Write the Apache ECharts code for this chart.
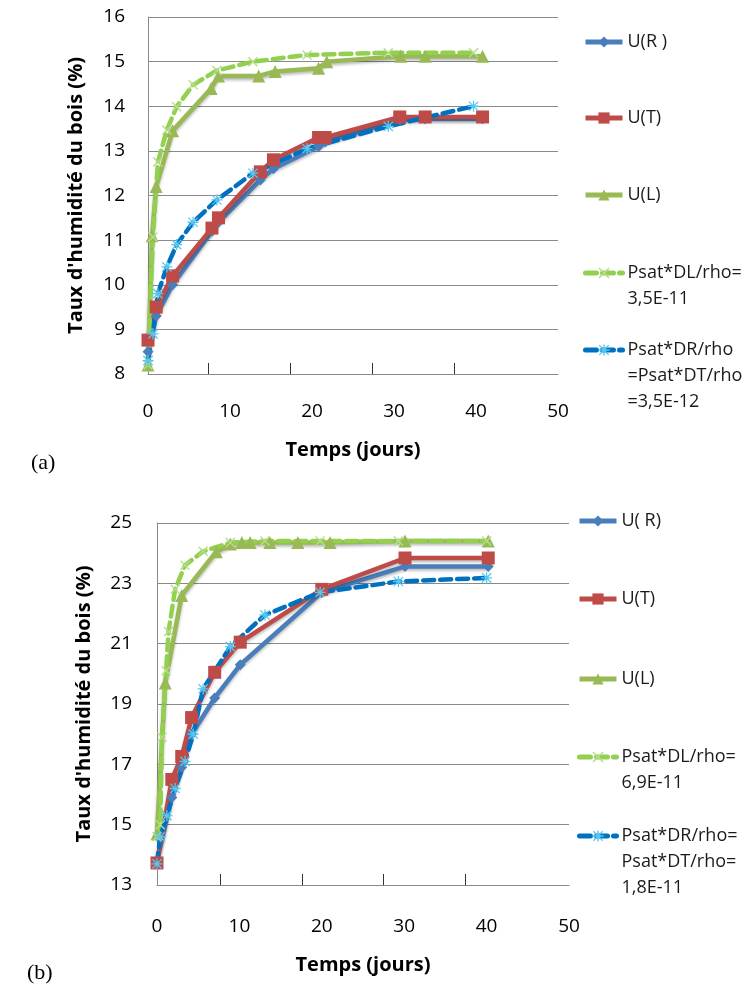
<!DOCTYPE html>
<html>
<head>
<meta charset="utf-8">
<script src="https://cdn.jsdelivr.net/npm/echarts@6/dist/echarts.min.js"></script>
<style>html,body{margin:0;padding:0;background:#fff}#c{width:745px;height:989px}</style>
</head>
<body>
<div id="c"></div>
<script>
// ---------- Chart (a) ----------
const tA_R = [0, 1, 3, 7.8, 8.6, 13.7, 15.3, 20.8, 21.6, 30.7, 33.8, 40.8];
const uA_R = [8.5, 9.3, 10.0, 11.2, 11.4, 12.35, 12.6, 13.1, 13.2, 13.7, 13.72, 13.72];
const tA_T = [0, 1, 3, 7.8, 8.6, 13.7, 15.3, 20.8, 21.6, 30.7, 33.8, 40.8];
const uA_T = [8.76, 9.5, 10.2, 11.27, 11.5, 12.53, 12.8, 13.3, 13.3, 13.76, 13.76, 13.76];
const tA_L = [0, 0.5, 1, 3, 7.7, 8.6, 13.5, 15.5, 20.8, 21.8, 30.8, 33.8, 40.8];
const uA_L = [8.2, 11.1, 12.2, 13.45, 14.4, 14.68, 14.68, 14.78, 14.85, 15.0, 15.12, 15.12, 15.12];
const tA_S = [0, 0.6, 1.2, 2.3, 3.5, 5.5, 8.4, 12.8, 19.4, 29.3, 39.7];
const uA_DL = [8.2, 11.07, 12.75, 13.47, 13.99, 14.48, 14.8, 15.0, 15.15, 15.2, 15.2];
const uA_DR = [8.3, 8.9, 9.8, 10.4, 10.9, 11.4, 11.9, 12.5, 13.05, 13.55, 14.0];
const yTicksA = [8, 9, 10, 11, 12, 13, 14, 15, 16];
const xTickMarksA = [7.3, 17.3, 27.3, 37.3];

// ---------- Chart (b) ----------
const tB_R = [0, 1.8, 3, 4.2, 7, 10.1, 20, 30.1, 40.2];
const uB_R = [13.8, 15.9, 16.9, 18.0, 19.2, 20.3, 22.7, 23.56, 23.56];
const tB_T = [0, 1.8, 3, 4.2, 7, 10.1, 20, 30.1, 40.2];
const uB_T = [13.73, 16.5, 17.26, 18.55, 20.05, 21.05, 22.8, 23.84, 23.84];
const tB_L = [0, 1, 3, 7.2, 8.9, 10.3, 11.3, 13.7, 17.1, 21, 30.1, 40.2];
const uB_L = [14.7, 19.7, 22.6, 24.05, 24.3, 24.35, 24.35, 24.35, 24.35, 24.35, 24.4, 24.4];
const tB_DL = [0, 0.4, 0.6, 1.1, 1.4, 2.2, 3.4, 5.6, 8.9, 13.1, 19.8, 29.3, 40];
const uB_DL = [14.6, 15.0, 17.9, 20.1, 21.4, 22.8, 23.6, 24.06, 24.35, 24.4, 24.4, 24.4, 24.4];
const tB_DR = [0, 0.4, 1.2, 2.2, 3.4, 4.4, 5.6, 8.9, 13.1, 19.8, 29.3, 40];
const uB_DR = [13.7, 14.6, 15.3, 16.2, 17.1, 18.0, 19.5, 20.9, 21.95, 22.7, 23.06, 23.18];
const yTicksB = [13, 15, 17, 19, 21, 23, 25];
const xTickMarksB = [7.7, 17.6, 27.5, 37.4];

const xLabels = [0, 10, 20, 30, 40, 50];
const xTitle = 'Temps (jours)';
const yTitle = "Taux d'humidité du bois (%)";

const legendA = [
  ['U(R )', ['U(R )']],
  ['U(T)', ['U(T)']],
  ['U(L)', ['U(L)']],
  ['Psat*DL/rho= a', ['Psat*DL/rho=', '3,5E-11']],
  ['Psat*DR/rho a', ['Psat*DR/rho', '=Psat*DT/rho', '=3,5E-12']]
];
const legendB = [
  ['U( R)', ['U( R)']],
  ['U(T) ', ['U(T)']],
  ['U(L) ', ['U(L)']],
  ['Psat*DL/rho= b', ['Psat*DL/rho=', '6,9E-11']],
  ['Psat*DR/rho= b', ['Psat*DR/rho=', 'Psat*DT/rho=', '1,8E-11']]
];

const zip = (t, v) => t.map((x, i) => [x, v[i]]);
const FONT = 'Open Sans';
const GRID_C = '#8a8a8a';

const C_R = '#4A7EBB', C_T = '#BE4B48', C_L = '#98B954', C_DL = '#92D050', C_DR = '#0070C0', C_DRm = '#55C8F0';
const crossPath = 'path://M0,1 L1,0 L5,4 L9,0 L10,1 L6,5 L10,9 L9,10 L5,6 L1,10 L0,9 L4,5 Z';
const starPath = 'path://M0,4.4 H10 V5.6 H0 Z M4.4,0 H5.6 V10 H4.4 Z M1.2,0.4 L9.6,8.8 L8.8,9.6 L0.4,1.2 Z M8.8,0.4 L9.6,1.2 L1.2,9.6 L0.4,8.8 Z';

function mkSeries(name, data, idx, kind) {
  const base = {
    name, type: 'line', data, xAxisIndex: idx, yAxisIndex: idx,
    showAllSymbol: true, animation: false, smooth: false
  };
  const shadow = { shadowColor: 'rgba(0,0,0,0.28)', shadowBlur: 3, shadowOffsetY: 2 };
  const W = 4.5;
  if (kind === 'R') return Object.assign(base, { symbol: 'diamond', symbolSize: 11, lineStyle: Object.assign({ color: C_R, width: W }, shadow), itemStyle: { color: C_R } });
  if (kind === 'T') return Object.assign(base, { symbol: 'rect', symbolSize: 13, lineStyle: Object.assign({ color: C_T, width: W }, shadow), itemStyle: { color: C_T } });
  if (kind === 'L') return Object.assign(base, { symbol: 'triangle', symbolSize: 13, lineStyle: Object.assign({ color: C_L, width: W }, shadow), itemStyle: { color: C_L } });
  if (kind === 'DL') return Object.assign(base, { symbol: crossPath, symbolSize: 10, lineStyle: { color: C_DL, width: W, type: [11, 6], cap: 'round' }, itemStyle: { color: '#b5dd8a' } });
  if (kind === 'DR') return Object.assign(base, { symbol: starPath, symbolSize: 11, lineStyle: { color: C_DR, width: W, type: [11, 6], cap: 'round' }, itemStyle: { color: C_DRm } });
}

function mkLegends(list, left, centers) {
  return list.map((it, i) => {
    const lines = it[1];
    const k = lines.length;
    const blanks = [];
    for (let j = 0; j < k - 1; j++) blanks.push(' ');
    const text = blanks.concat(lines).join('\n');
    const nLines = 2 * k - 1;
    return {
      left: left, top: centers[i] - nLines * 26 / 2,
      padding: 0, itemGap: 0, itemWidth: 37, itemHeight: 14,
      selectedMode: false,
      data: [it[0]],
      formatter: () => text,
      lineStyle: { width: 5 },
      textStyle: { fontFamily: FONT, fontSize: 18, lineHeight: 26, color: '#1a1a1a' }
    };
  });
}

function xAxisCfg(idx, ticks, gap, margin) {
  return {
    type: 'value', gridIndex: idx, min: 0, max: 50, interval: 10,
    name: xTitle, nameLocation: 'middle', nameGap: gap,
    nameTextStyle: { fontFamily: FONT, fontSize: 20, fontWeight: 'bold', color: '#000' },
    axisLine: { show: true, lineStyle: { color: GRID_C, width: 1 } },
    axisTick: { show: true, inside: true, length: 11, customValues: ticks, lineStyle: { color: '#333', width: 1 } },
    axisLabel: { fontFamily: FONT, fontSize: 19, color: '#000', margin: margin, customValues: xLabels },
    splitLine: { show: false }
  };
}
function yAxisCfg(idx, min, max, ticks, gap, margin) {
  return {
    type: 'value', gridIndex: idx, min: min, max: max,
    name: yTitle, nameLocation: 'middle', nameGap: gap, nameRotate: 90,
    nameTextStyle: { fontFamily: FONT, fontSize: 20, fontWeight: 'bold', color: '#000' },
    axisLine: { show: true, lineStyle: { color: GRID_C, width: 1 } },
    axisTick: { show: false, customValues: ticks },
    axisLabel: { fontFamily: FONT, fontSize: 19, color: '#000', margin: margin, customValues: ticks },
    splitLine: { show: true, lineStyle: { color: GRID_C, width: 1 } }
  };
}

const chart = echarts.init(document.getElementById('c'), null, { renderer: 'canvas' });
chart.setOption({
  backgroundColor: '#fff',
  animation: false,
  title: [
    { text: '(a)', left: 26, top: 447, textStyle: { fontFamily: 'Liberation Serif', fontSize: 22, fontWeight: 'normal', color: '#000' } },
    { text: '(b)', left: 22, top: 957, textStyle: { fontFamily: 'Liberation Serif', fontSize: 22, fontWeight: 'normal', color: '#000' } }
  ],
  grid: [
    { left: 148, right: 187, top: 17, height: 357, containLabel: false },
    { left: 157, right: 176, top: 523, height: 362, containLabel: false }
  ],
  xAxis: [xAxisCfg(0, xTickMarksA, 66, 28), xAxisCfg(1, xTickMarksB, 70, 32)],
  yAxis: [yAxisCfg(0, 8, 16, yTicksA, 62, 23), yAxisCfg(1, 13, 25, yTicksB, 63, 25)],
  legend: mkLegends(legendA, 583, [42, 118, 195, 273, 350]).concat(mkLegends(legendB, 577, [521, 599, 679, 757, 836])),
  series: [
    mkSeries('U(R )', zip(tA_R, uA_R), 0, 'R'),
    mkSeries('U(T)', zip(tA_T, uA_T), 0, 'T'),
    mkSeries('U(L)', zip(tA_L, uA_L), 0, 'L'),
    mkSeries('Psat*DL/rho= a', zip(tA_S, uA_DL), 0, 'DL'),
    mkSeries('Psat*DR/rho a', zip(tA_S, uA_DR), 0, 'DR'),
    mkSeries('U( R)', zip(tB_R, uB_R), 1, 'R'),
    mkSeries('U(T) ', zip(tB_T, uB_T), 1, 'T'),
    mkSeries('U(L) ', zip(tB_L, uB_L), 1, 'L'),
    mkSeries('Psat*DL/rho= b', zip(tB_DL, uB_DL), 1, 'DL'),
    mkSeries('Psat*DR/rho= b', zip(tB_DR, uB_DR), 1, 'DR')
  ]
});
</script>
</body>
</html>
